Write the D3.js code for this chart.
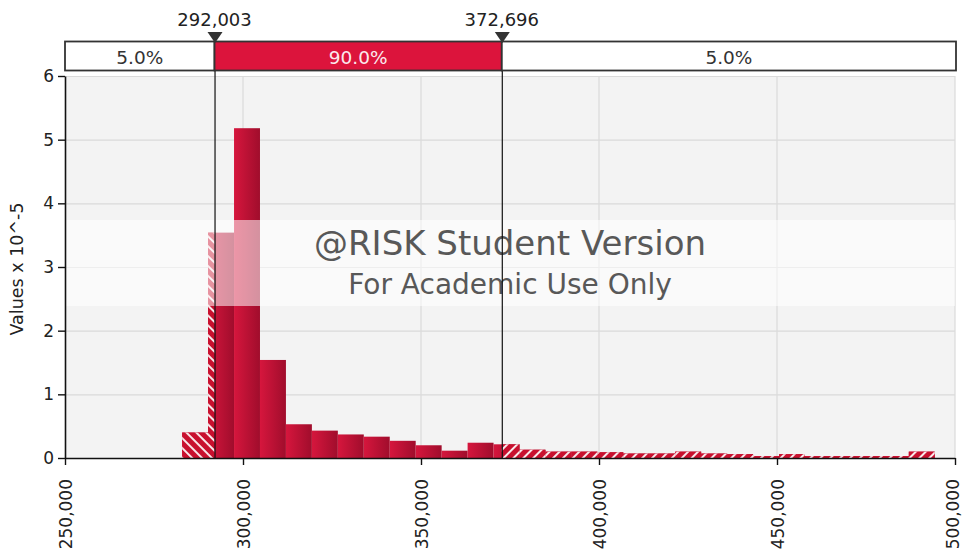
<!DOCTYPE html>
<html>
<head>
<meta charset="utf-8">
<script src="https://cdn.jsdelivr.net/npm/d3@7/dist/d3.min.js"></script>
<style>
  html, body { margin: 0; padding: 0; background: #fff; }
  svg { display: block; font-family: "DejaVu Sans", Verdana, sans-serif; }
</style>
</head>
<body>
<svg id="chart" width="963" height="559"></svg>
<script>
// Histogram of simulated values (density in units of 10^-5)
const binMin = 282900;
const binWidth = 7290;
const density = [0.40, 3.54, 5.18, 1.54, 0.53, 0.43, 0.37, 0.335, 0.27, 0.20,
                 0.115, 0.24, 0.215, 0.13, 0.10, 0.10, 0.09, 0.07, 0.07, 0.10,
                 0.07, 0.06, 0.03, 0.06, 0.03, 0.03, 0.03, 0.03, 0.10];
const markers = [292003, 372696];
const bandLabels = ["5.0%", "90.0%", "5.0%"];
const xTicks = [250000, 300000, 350000, 400000, 450000, 500000];
const yTicks = [0, 1, 2, 3, 4, 5, 6];
const yTitle = "Values x 10^-5";
const watermark = ["@RISK Student Version", "For Academic Use Only"];

const bins = density.map((d, i) => ({ x0: binMin + i * binWidth, x1: binMin + (i + 1) * binWidth, v: d }));

const svg = d3.select("#chart");
const pL = 65, pR = 955, pT = 76, pB = 458;
const x = d3.scaleLinear().domain([250000, 500000]).range([pL, pR]);
const y = d3.scaleLinear().domain([0, 6]).range([pB, pT]);

const defs = svg.append("defs");
const grad = defs.append("linearGradient").attr("id", "barGrad")
  .attr("x1", "0%").attr("x2", "100%").attr("y1", "0%").attr("y2", "0%");
grad.append("stop").attr("offset", "0%").attr("stop-color", "#d6163d");
grad.append("stop").attr("offset", "100%").attr("stop-color", "#a00d2c");

function hatch(id, angle) {
  const p = defs.append("pattern").attr("id", id)
    .attr("patternUnits", "userSpaceOnUse").attr("width", 7).attr("height", 7)
    .attr("patternTransform", `rotate(${angle})`);
  p.append("line").attr("x1", 1).attr("x2", 1).attr("y1", 0).attr("y2", 7)
    .attr("stroke", "#ffffff").attr("stroke-width", 1.8);
}
hatch("hatchLeft", -45);
hatch("hatchRight", 45);

defs.append("clipPath").attr("id", "clipLeft").append("rect")
  .attr("x", pL).attr("y", pT).attr("width", x(markers[0]) - pL).attr("height", pB - pT);
defs.append("clipPath").attr("id", "clipRight").append("rect")
  .attr("x", x(markers[1])).attr("y", pT).attr("width", pR - x(markers[1])).attr("height", pB - pT);

// plot background and grid
svg.append("rect").attr("x", pL).attr("y", pT).attr("width", pR - pL).attr("height", pB - pT)
  .attr("fill", "#f3f3f3");
svg.append("g").selectAll("line").data(yTicks.filter(d => d > 0)).join("line")
  .attr("x1", pL).attr("x2", pR).attr("y1", d => y(d) + 0.5).attr("y2", d => y(d) + 0.5)
  .attr("stroke", "#dadada").attr("stroke-width", 1.2);
svg.append("g").selectAll("line").data(xTicks.filter(d => d > 250000)).join("line")
  .attr("x1", d => x(d)).attr("x2", d => x(d)).attr("y1", pT).attr("y2", pB)
  .attr("stroke", "#dadada").attr("stroke-width", 1.2);

// bars
const barG = svg.append("g");
barG.selectAll("rect").data(bins).join("rect")
  .attr("x", d => x(d.x0)).attr("width", d => x(d.x1) - x(d.x0))
  .attr("y", d => y(d.v)).attr("height", d => y(0) - y(d.v))
  .attr("fill", "url(#barGrad)");

// hatched tails outside the 5%-95% range
[["clipLeft", "hatchLeft"], ["clipRight", "hatchRight"]].forEach(([clip, pat]) => {
  const g = svg.append("g").attr("clip-path", `url(#${clip})`);
  g.selectAll("rect.base").data(bins).join("rect").attr("class", "base")
    .attr("x", d => x(d.x0)).attr("width", d => x(d.x1) - x(d.x0))
    .attr("y", d => y(d.v)).attr("height", d => y(0) - y(d.v))
    .attr("fill", "#c8102e");
  g.selectAll("rect.hatch").data(bins).join("rect").attr("class", "hatch")
    .attr("x", d => x(d.x0)).attr("width", d => x(d.x1) - x(d.x0))
    .attr("y", d => y(d.v)).attr("height", d => y(0) - y(d.v))
    .attr("fill", `url(#${pat})`);
});

// watermark band
svg.append("rect").attr("x", pL).attr("y", 220).attr("width", pR - pL).attr("height", 86)
  .attr("fill", "#ffffff").attr("opacity", 0.55);
svg.append("text").attr("x", 510).attr("y", 255).attr("text-anchor", "middle")
  .attr("font-size", 34).attr("fill", "#585858").text(watermark[0]);
svg.append("text").attr("x", 510).attr("y", 294).attr("text-anchor", "middle")
  .attr("font-size", 28).attr("fill", "#585858").text(watermark[1]);

// marker lines
svg.append("g").selectAll("line").data(markers).join("line")
  .attr("x1", d => x(d) + 0.5).attr("x2", d => x(d) + 0.5).attr("y1", 70).attr("y2", pB)
  .attr("stroke", "#111").attr("stroke-width", 1.2);

// axes
const yAxis = svg.append("g").attr("transform", `translate(${pL},0)`)
  .call(d3.axisLeft(y).tickValues(yTicks).tickSize(7).tickSizeOuter(0).tickFormat(d3.format("d")));
const xAxis = svg.append("g").attr("transform", `translate(0,${pB})`)
  .call(d3.axisBottom(x).tickValues(xTicks).tickSize(7).tickSizeOuter(0).tickFormat(d3.format(",")));
[yAxis, xAxis].forEach(a => {
  a.select(".domain").attr("stroke", "#111").attr("stroke-width", 1.6);
  a.selectAll(".tick line").attr("stroke", "#111").attr("stroke-width", 1.4);
  a.selectAll("text").attr("fill", "#222").attr("font-size", 17)
    .attr("font-family", "DejaVu Sans, Verdana, sans-serif");
});
yAxis.selectAll("text").attr("x", -11);
xAxis.selectAll("text")
  .attr("transform", "rotate(-90)").attr("x", -21).attr("y", 0).attr("dy", "0.36em")
  .style("text-anchor", "end");
xAxis.selectAll(".tick").filter(d => d === 500000).select("text").attr("dy", "0.2em");

svg.append("text").attr("transform", "translate(17,269) rotate(-90)")
  .attr("text-anchor", "middle").attr("dominant-baseline", "central")
  .attr("font-size", 17.5).attr("fill", "#222").text(yTitle);

// delimiter box with percentages
const boxTop = 41.5, boxH = 29;
const edges = [250000, markers[0], markers[1], 500000];
const segs = bandLabels.map((t, i) => ({ t, a: edges[i], b: edges[i + 1], mid: i === 1 }));
const boxRight = 956;
svg.append("g").selectAll("rect").data(segs).join("rect")
  .attr("x", d => x(d.a)).attr("y", boxTop)
  .attr("width", d => (d.b === 500000 ? boxRight : x(d.b)) - x(d.a)).attr("height", boxH)
  .attr("fill", d => d.mid ? "#dc143c" : "#ffffff")
  .attr("stroke", "#333").attr("stroke-width", 1.8);
svg.append("g").selectAll("text").data(segs).join("text")
  .attr("x", d => (x(d.a) + (d.b === 500000 ? boxRight : x(d.b))) / 2).attr("y", boxTop + boxH / 2 + 1)
  .attr("text-anchor", "middle").attr("dominant-baseline", "central")
  .attr("font-size", 18.5).attr("fill", d => d.mid ? "#fbe9ed" : "#333").text(d => d.t);

// marker handles and value labels
svg.append("g").selectAll("path").data(markers).join("path")
  .attr("d", d => `M${x(d) - 7},${32} L${x(d) + 8},${32} L${x(d) + 0.5},${43} Z`)
  .attr("fill", "#333");
svg.append("g").selectAll("text").data(markers).join("text")
  .attr("x", d => x(d)).attr("y", 26).attr("text-anchor", "middle")
  .attr("font-size", 18).attr("fill", "#222").text(d => d3.format(",")(d));
</script>
</body>
</html>
